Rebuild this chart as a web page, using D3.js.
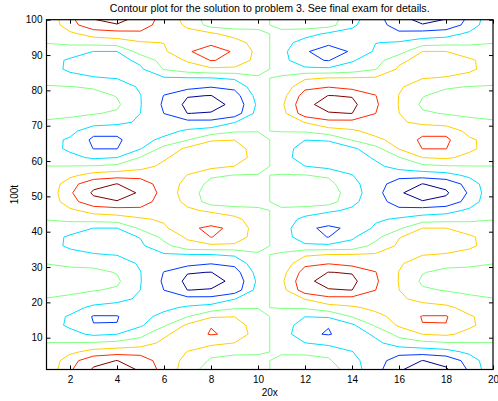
<!DOCTYPE html>
<html><head><meta charset="utf-8">
<script src="https://cdn.jsdelivr.net/npm/d3@7"></script>
<style>
html,body{margin:0;padding:0;background:#fff;}
svg{display:block;font-family:"Liberation Sans",Arial,Helvetica,sans-serif;}
</style></head><body>
<svg id="chart" width="498" height="401"></svg>
<script>
// ---------- text ----------
const titleText = "Contour plot for the solution to problem 3. See final exam for details.";
const xLabel = "20x";
const yLabel = "100t";
const xTicks = [2,4,6,8,10,12,14,16,18,20];
const yTicks = [10,20,30,40,50,60,70,80,90,100];

// ---------- grid (x columns, t rows) ----------
const xCols = [1,2,3,4,5,6,7,8,9,10,11,12,13,14,15,16,17,18,19,20];
const tRows = [1,3.5,6,8.5,11,13.5,16,18.5,21,23.5,26,28.5,31,33.5,36,38.5,41,43.5,46,48.5,51,
               53.5,56,58.5,61,63.5,66,68.5,71,73.5,76,78.5,81,83.5,86,88.5,91,93.5,96,98.5,101];
const levels = [-3,-2,-1,0,1,2,3];
const levelColors = ["#00008f","#0038ff","#00dfff","#80ff80","#ffcf00","#ff2900","#800000"];

// solution values, one array per x column, listed along tRows
const c01 = [0.20,0.17,0.11,0.01,-0.27,-0.57,-0.63,-0.31,-0.02,0.22,0.45,0.22,-0.01,-0.33,-0.63,-0.60,-0.24,0.02,0.11,0.17,0.20,0.17,0.11,0.01,-0.27,-0.57,-0.63,-0.31,-0.08,0.22,0.45,0.22,0.05,-0.25,-0.63,-0.60,-0.24,0.02,0.11,0.17,0.20];
const c02 = [1.85,1.60,0.76,0.03,-0.71,-1.16,-1.09,-0.67,-0.15,0.17,0.40,0.18,-0.12,-0.71,-1.16,-1.14,-0.55,0.20,0.80,1.60,1.85,1.60,0.76,0.03,-0.71,-1.20,-1.15,-0.67,-0.20,0.17,0.40,0.22,0.03,-0.71,-1.16,-1.14,-0.55,0.20,0.80,1.60,1.85];
const c03 = [3.12,2.70,1.36,0.09,-1.17,-1.97,-2.08,-1.21,-0.50,0.06,0.30,0.25,-0.27,-0.95,-1.31,-1.29,-1.01,0.37,1.38,2.70,3.15,2.70,1.36,0.09,-1.17,-2.02,-2.20,-1.70,-0.50,0.06,0.30,0.30,-0.10,-0.95,-1.31,-1.29,-1.01,0.37,1.38,2.70,3.15];
const c04 = [3.40,3.02,1.55,0.25,-1.01,-1.97,-2.06,-1.36,-0.73,-0.12,0.17,-0.05,-0.60,-1.03,-1.33,-1.30,-1.01,0.50,1.55,2.95,3.40,3.02,1.55,0.25,-1.01,-2.02,-2.20,-1.70,-0.73,-0.12,0.17,-0.05,-0.60,-1.03,-1.33,-1.30,-1.01,0.50,1.55,2.95,3.40];
const c05 = [2.90,2.50,1.67,0.47,-0.31,-1.13,-1.30,-1.30,-1.15,-1.01,-0.96,-0.98,-1.10,-1.22,-1.15,-0.96,0.18,0.85,1.75,2.45,2.90,2.50,1.67,0.60,0.05,-1.05,-1.30,-1.30,-1.15,-1.01,-0.96,-0.98,-1.10,-1.22,-1.15,-0.80,0.45,0.90,1.80,2.45,2.90];
const c06 = [1.61,1.55,1.45,1.25,0.80,-0.12,-0.73,-1.22,-1.61,-2.01,-2.15,-2.03,-1.60,-1.10,-0.33,0.31,0.82,1.15,1.40,1.55,1.61,1.55,1.45,1.25,0.85,0.35,-0.80,-1.30,-1.61,-2.01,-2.15,-2.03,-1.60,-1.10,0.05,0.45,0.85,1.02,1.35,1.55,1.61];
const c07 = [0.54,0.72,0.98,1.30,1.60,1.20,-0.05,-0.85,-1.70,-3.01,-3.25,-2.94,-1.63,-1.05,0.70,1.14,1.85,1.50,1.15,0.77,0.54,0.72,0.98,1.30,1.55,1.20,-0.05,-0.85,-1.70,-3.01,-3.25,-2.94,-1.63,-1.05,0.55,1.10,1.92,1.60,1.25,0.85,0.54];
const c08 = [-0.55,-0.12,0.26,1.29,2.06,1.97,0.87,-0.58,-1.70,-2.95,-3.30,-3.02,-1.96,-1.02,0.80,2.02,2.15,1.60,0.85,-0.50,-0.55,-0.30,0.15,1.29,1.85,1.80,0.87,-0.58,-1.70,-2.95,-3.30,-3.02,-1.96,-1.02,0.80,2.05,2.35,1.85,1.20,-0.40,-0.55];
const c09 = [-0.50,-0.20,0.11,0.98,1.85,1.60,0.98,-0.13,-1.04,-2.60,-2.80,-2.45,-1.75,-0.85,0.75,1.75,1.85,1.35,0.35,-0.45,-0.50,-0.35,-0.02,0.98,1.75,1.60,0.98,-0.13,-1.04,-2.60,-2.80,-2.45,-1.75,-0.85,0.75,1.80,1.92,1.50,0.55,-0.45,-0.50];
const c10 = [-0.30,-0.12,0.06,0.22,0.38,0.36,0.20,-0.02,-0.30,-0.60,-0.80,-0.60,-0.32,-0.05,0.15,0.35,0.42,0.30,0.08,-0.15,-0.30,-0.22,-0.02,0.18,0.38,0.36,0.20,-0.02,-0.30,-0.60,-0.80,-0.60,-0.32,-0.05,0.15,0.60,0.70,0.50,0.15,-0.15,-0.30];
const c11 = [0.30,0.12,-0.06,-0.22,-0.38,-0.36,-0.20,0.02,0.30,0.60,0.80,0.60,0.32,0.05,-0.15,-0.35,-0.42,-0.30,-0.08,0.15,0.30,0.22,0.02,-0.18,-0.38,-0.36,-0.20,0.02,0.30,0.60,0.80,0.60,0.32,0.05,-0.15,-0.60,-0.70,-0.50,-0.15,0.15,0.30];
const c12 = [0.50,0.20,-0.11,-0.98,-1.85,-1.60,-0.98,0.13,1.04,2.60,2.80,2.45,1.75,0.85,-0.75,-1.75,-1.85,-1.35,-0.35,0.45,0.50,0.35,0.02,-0.98,-1.75,-1.60,-0.98,0.13,1.04,2.60,2.80,2.45,1.75,0.85,-0.75,-1.80,-1.92,-1.50,-0.55,0.45,0.50];
const c13 = [0.55,0.12,-0.26,-1.29,-2.06,-1.97,-0.87,0.58,1.70,2.95,3.30,3.02,1.96,1.02,-0.80,-2.02,-2.15,-1.60,-0.85,0.50,0.55,0.30,-0.15,-1.29,-1.85,-1.80,-0.87,0.58,1.70,2.95,3.30,3.02,1.96,1.02,-0.80,-2.05,-2.35,-1.85,-1.20,0.40,0.55];
const c14 = [-0.54,-0.72,-0.98,-1.30,-1.60,-1.20,0.05,0.85,1.70,3.01,3.25,2.94,1.63,1.05,-0.70,-1.14,-1.85,-1.50,-1.15,-0.77,-0.54,-0.72,-0.98,-1.30,-1.55,-1.20,0.05,0.85,1.70,3.01,3.25,2.94,1.63,1.05,-0.55,-1.10,-1.92,-1.60,-1.25,-0.85,-0.54];
const c15 = [-1.61,-1.55,-1.45,-1.25,-0.80,0.12,0.73,1.22,1.61,2.01,2.15,2.03,1.60,1.10,0.33,-0.31,-0.82,-1.15,-1.40,-1.55,-1.61,-1.55,-1.45,-1.25,-0.85,-0.35,0.80,1.30,1.61,2.01,2.15,2.03,1.60,1.10,-0.05,-0.45,-0.85,-1.02,-1.35,-1.55,-1.61];
const c16 = [-2.90,-2.50,-1.67,-0.47,0.31,1.13,1.30,1.30,1.15,1.01,0.96,0.98,1.10,1.22,1.15,0.96,-0.18,-0.85,-1.75,-2.45,-2.90,-2.50,-1.67,-0.60,-0.05,1.05,1.30,1.30,1.15,1.01,0.96,0.98,1.10,1.22,1.15,0.80,-0.45,-0.90,-1.80,-2.45,-2.90];
const c17 = [-3.40,-3.02,-1.55,-0.25,1.01,1.97,2.06,1.36,0.73,0.12,-0.17,0.05,0.60,1.03,1.33,1.30,1.01,-0.50,-1.55,-2.95,-3.40,-3.02,-1.55,-0.25,1.01,2.02,2.20,1.70,0.73,0.12,-0.17,0.05,0.60,1.03,1.33,1.30,1.01,-0.50,-1.55,-2.95,-3.40];
const c18 = [-3.12,-2.70,-1.36,-0.09,1.17,1.97,2.08,1.21,0.50,-0.06,-0.30,-0.25,0.27,0.95,1.31,1.29,1.01,-0.37,-1.38,-2.70,-3.15,-2.70,-1.36,-0.09,1.17,2.02,2.20,1.70,0.50,-0.06,-0.30,-0.30,0.10,0.95,1.31,1.29,1.01,-0.37,-1.38,-2.70,-3.15];
const c19 = [-1.85,-1.60,-0.76,-0.03,0.71,1.16,1.09,0.67,0.15,-0.17,-0.40,-0.18,0.12,0.71,1.16,1.14,0.55,-0.20,-0.80,-1.60,-1.85,-1.60,-0.76,-0.03,0.71,1.20,1.15,0.67,0.20,-0.17,-0.40,-0.22,-0.03,0.71,1.16,1.14,0.55,-0.20,-0.80,-1.60,-1.85];
const c20 = [-0.20,-0.17,-0.11,-0.01,0.27,0.57,0.63,0.31,0.02,-0.22,-0.45,-0.22,0.01,0.33,0.63,0.60,0.24,-0.02,-0.11,-0.17,-0.20,-0.17,-0.11,-0.01,0.27,0.57,0.63,0.31,0.08,-0.22,-0.45,-0.22,-0.05,0.25,0.63,0.60,0.24,-0.02,-0.11,-0.17,-0.20];

const columns = [c01,c02,c03,c04,c05,c06,c07,c08,c09,c10,c11,c12,c13,c14,c15,c16,c17,c18,c19,c20];

// ---------- layout ----------
const svg = d3.select("#chart");
svg.append("rect").attr("width",498).attr("height",401).attr("fill","#fff");
const x = d3.scaleLinear().domain([1,20]).range([46.5,493]);
const y = d3.scaleLinear().domain([1,100]).range([369.5,19.7]);

// padded grid (edge replicated so that grid borders fall outside the clipped plot)
const nC = columns.length, nR = tRows.length;
const GW = nC + 2, GH = nR + 2;
const grid = new Array(GW * GH);
for (let k = 0; k < GH; k++) {
  for (let j = 0; j < GW; j++) {
    const r = Math.min(nR - 1, Math.max(0, k - 1));
    const i = Math.min(nC - 1, Math.max(0, j - 1));
    grid[k * GW + j] = columns[i][r];
  }
}
const colToX = d3.scaleLinear().domain(d3.range(nC)).range(xCols);
const rowToT = d3.scaleLinear().domain(d3.range(nR)).range(tRows);
const px = cx => x(colToX(cx - 1.5));
const py = cy => y(rowToT(cy - 1.5));

const contours = d3.contours().size([GW, GH]).thresholds(levels)(grid);

function ringPath(mp) {
  let s = "";
  mp.coordinates.forEach(poly => poly.forEach(ring => {
    ring.forEach((p, idx) => { s += (idx ? "L" : "M") + px(p[0]).toFixed(2) + "," + py(p[1]).toFixed(2); });
    s += "Z";
  }));
  return s;
}

const defs = svg.append("defs");
defs.append("clipPath").attr("id","plotclip").append("rect")
  .attr("x", x(1)).attr("y", y(100)).attr("width", x(20) - x(1)).attr("height", y(1) - y(100));

const plot = svg.append("g").attr("clip-path","url(#plotclip)");
plot.selectAll("path.iso").data(contours).join("path")
  .attr("class","iso")
  .attr("d", d => ringPath(d))
  .attr("fill","none")
  .attr("stroke", (d, i) => levelColors[i])
  .attr("stroke-width", 1)
  .attr("stroke-linejoin","round");

// ---------- axes ----------
function styleAxis(g) {
  g.select(".domain").remove();
  g.selectAll(".tick line").attr("stroke","#000").attr("stroke-width",1);
  g.selectAll(".tick text").attr("fill","#000").attr("font-size",10)
    .attr("font-family",'"Liberation Sans",Arial,Helvetica,sans-serif');
  g.attr("font-family",null).attr("font-size",null);
}
svg.append("g").attr("transform",`translate(0,${y(1)})`)
  .call(d3.axisBottom(x).tickValues(xTicks).tickSize(-4).tickPadding(6).tickFormat(d3.format("d"))).call(styleAxis);
svg.append("g").attr("transform",`translate(0,${y(100)})`)
  .call(d3.axisTop(x).tickValues(xTicks).tickSize(-4).tickFormat(() => "")).call(styleAxis);
svg.append("g").attr("transform",`translate(${x(1)},0)`)
  .call(d3.axisLeft(y).tickValues(yTicks).tickSize(-4).tickPadding(4).tickFormat(d3.format("d"))).call(styleAxis);
svg.append("g").attr("transform",`translate(${x(20)},0)`)
  .call(d3.axisRight(y).tickValues(yTicks).tickSize(-4).tickFormat(() => "")).call(styleAxis);

svg.append("rect")
  .attr("x", x(1)).attr("y", y(100)).attr("width", x(20) - x(1)).attr("height", y(1) - y(100))
  .attr("fill","none").attr("stroke","#000").attr("stroke-width",1.2);

// ---------- labels ----------
svg.append("text").attr("x", (x(1) + x(20)) / 2).attr("y", 12).attr("text-anchor","middle")
  .attr("font-size",10.6).attr("fill","#000").text(titleText);
svg.append("text").attr("x", (x(1) + x(20)) / 2).attr("y", 395.5).attr("text-anchor","middle")
  .attr("font-size",10).attr("fill","#000").text(xLabel);
svg.append("text").attr("transform",`translate(17.5,${(y(1) + y(100)) / 2}) rotate(-90)`)
  .attr("text-anchor","middle").attr("font-size",10).attr("fill","#000").text(yLabel);
</script>
</body></html>
